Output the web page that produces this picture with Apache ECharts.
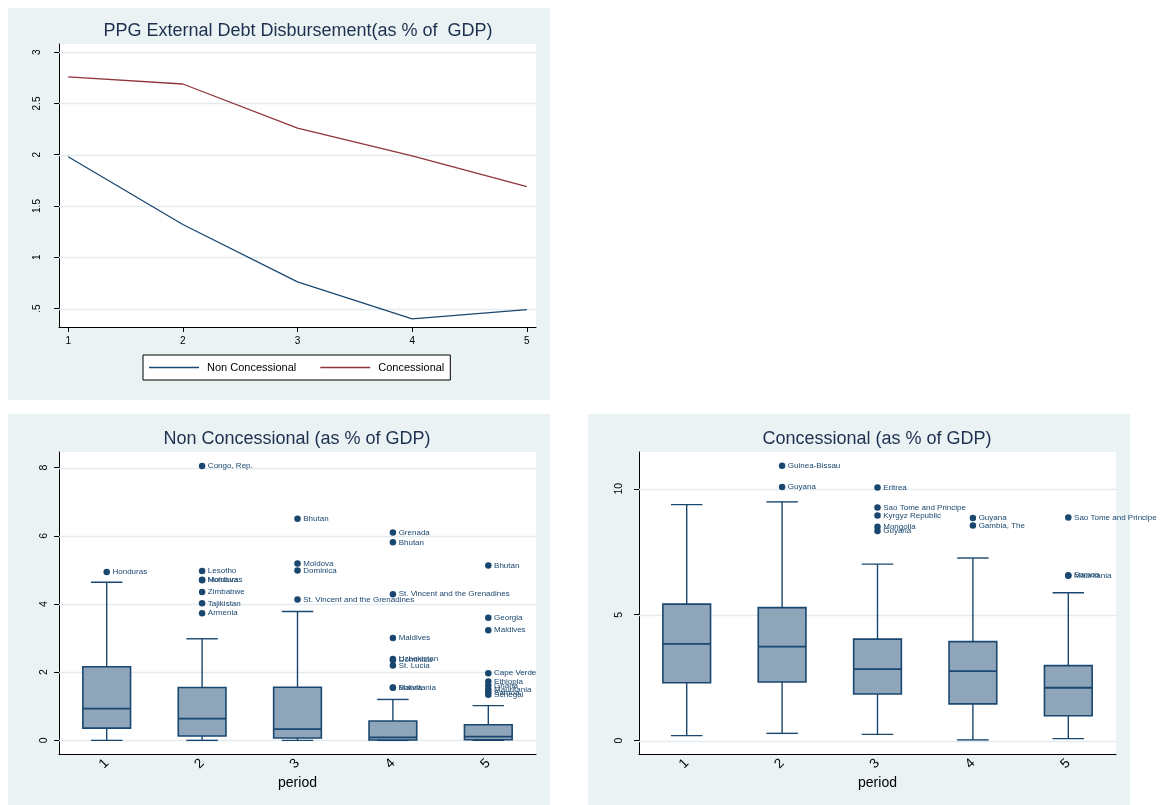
<!DOCTYPE html>
<html>
<head>
<meta charset="utf-8">
<script src="https://cdn.jsdelivr.net/npm/echarts@6/dist/echarts.min.js"></script>
<style>
  html, body { margin: 0; padding: 0; background: #ffffff; }
  #wrap { position: relative; width: 1165px; height: 805px; overflow: hidden; }
  .panel { position: absolute; background: #eaf2f3; }
  #chart { position: absolute; left: 0; top: 0; width: 1165px; height: 805px; }
</style>
</head>
<body>
<div id="wrap">
  <div class="panel" style="left:8px;top:8px;width:542px;height:392px"></div>
  <div class="panel" style="left:8px;top:414px;width:542px;height:391px"></div>
  <div class="panel" style="left:588px;top:414px;width:542px;height:391px"></div>
  <div id="chart"></div>
</div>
<script>
// ---- mean disbursement by period (% of GDP) ----
const periods = [1, 2, 3, 4, 5];
const nonConcessionalMean = [1.98, 1.32, 0.76, 0.40, 0.49];
const concessionalMean = [2.76, 2.69, 2.26, 1.99, 1.69];
const meanTicks = [0.5, 1, 1.5, 2, 2.5, 3];

// ---- box plot categories ----
const periodLabels = ['1', '2', '3', '4', '5'];

// ---- non concessional distribution by period ----
const ncLower  = [0.00, 0.00, 0.00, 0.00, 0.00];
const ncQ1     = [0.36, 0.13, 0.07, 0.01, 0.02];
const ncMedian = [0.93, 0.64, 0.33, 0.09, 0.11];
const ncQ3     = [2.16, 1.55, 1.56, 0.57, 0.46];
const ncUpper  = [4.64, 2.98, 3.78, 1.20, 1.02];
const ncTicks  = [0, 2, 4, 6, 8];
const ncOutliers = [
  ['1', 4.94, 'Honduras'],
  ['2', 8.05, 'Congo, Rep.'], ['2', 4.97, 'Lesotho'], ['2', 4.71, 'Moldova'],
  ['2', 4.70, 'Honduras'], ['2', 4.35, 'Zimbabwe'], ['2', 4.02, 'Tajikistan'],
  ['2', 3.73, 'Armenia'],
  ['3', 6.50, 'Bhutan'], ['3', 5.19, 'Moldova'], ['3', 4.98, 'Dominica'],
  ['3', 4.13, 'St. Vincent and the Grenadines'],
  ['4', 6.10, 'Grenada'], ['4', 5.81, 'Bhutan'], ['4', 4.29, 'St. Vincent and the Grenadines'],
  ['4', 3.00, 'Maldives'], ['4', 2.39, 'Uzbekistan'], ['4', 2.35, 'Dominica'],
  ['4', 2.20, 'St. Lucia'], ['4', 1.55, 'Bolivia'], ['4', 1.54, 'Mauritania'],
  ['5', 5.13, 'Bhutan'], ['5', 3.60, 'Georgia'], ['5', 3.23, 'Maldives'],
  ['5', 1.97, 'Cape Verde'], ['5', 1.73, 'Ethiopia'], ['5', 1.61, 'Ghana'],
  ['5', 1.49, 'Mauritania'], ['5', 1.41, 'Samoa'], ['5', 1.34, 'Senegal']
];

// ---- concessional distribution by period ----
const cLower  = [0.20, 0.29, 0.25, 0.03, 0.08];
const cQ1     = [2.30, 2.33, 1.85, 1.46, 0.99];
const cMedian = [3.84, 3.73, 2.84, 2.76, 2.10];
const cQ3     = [5.42, 5.28, 4.03, 3.93, 2.98];
const cUpper  = [9.37, 9.48, 7.01, 7.25, 5.87];
const cTicks  = [0, 5, 10];
const cOutliers = [
  ['2', 10.91, 'Guinea-Bissau'], ['2', 10.07, 'Guyana'],
  ['3', 10.05, 'Eritrea'], ['3', 9.26, 'Sao Tome and Principe'],
  ['3', 8.94, 'Kyrgyz Republic'], ['3', 8.49, 'Mongolia'], ['3', 8.32, 'Guyana'],
  ['4', 8.84, 'Guyana'], ['4', 8.54, 'Gambia, The'],
  ['5', 8.86, 'Sao Tome and Principe'], ['5', 6.57, 'Samoa'], ['5', 6.55, 'Mauritania']
];

// ---- styling ----
const FONT = '"Liberation Sans", Arial, Helvetica, sans-serif';
const NAVY = '#1a476f';
const MAROON = '#90353b';
const BOX_FILL = '#8ea5ba';
const GRID_LINE = '#e2ecef';
const TITLE_COLOR = '#1e3050';
const LEGEND_LINE = 'path://M0,0 L50,0 L50,1.3 L0,1.3 Z';

function boxRows(lo, q1, md, q3, hi) {
  return periodLabels.map((p, i) => [p, lo[i], q1[i], md[i], q3[i], hi[i]]);
}

function renderBox(params, api) {
  const c = api.value(0);
  const pLo = api.coord([c, api.value(1)]);
  const pQ1 = api.coord([c, api.value(2)]);
  const pMd = api.coord([c, api.value(3)]);
  const pQ3 = api.coord([c, api.value(4)]);
  const pHi = api.coord([c, api.value(5)]);
  const band = api.size([1, 0])[0];
  const hb = band * 0.25;
  const hc = band * 0.165;
  const x = pMd[0];
  const ln = { stroke: NAVY, lineWidth: 1.4 };
  return {
    type: 'group',
    children: [
      { type: 'line', shape: { x1: x, y1: pLo[1], x2: x, y2: pQ1[1] }, style: ln },
      { type: 'line', shape: { x1: x, y1: pQ3[1], x2: x, y2: pHi[1] }, style: ln },
      { type: 'line', shape: { x1: x - hc, y1: pLo[1], x2: x + hc, y2: pLo[1] }, style: ln },
      { type: 'line', shape: { x1: x - hc, y1: pHi[1], x2: x + hc, y2: pHi[1] }, style: ln },
      { type: 'rect', shape: { x: x - hb, y: pQ3[1], width: hb * 2, height: pQ1[1] - pQ3[1] },
        style: { fill: BOX_FILL, stroke: NAVY, lineWidth: 1.6 } },
      { type: 'line', shape: { x1: x - hb, y1: pMd[1], x2: x + hb, y2: pMd[1] },
        style: { stroke: NAVY, lineWidth: 1.8 } }
    ]
  };
}

// horizontal reference lines across the plot at each y tick
function gridLineSeries(axisIdx, anchorX, ticks) {
  return {
    type: 'custom', xAxisIndex: axisIdx, yAxisIndex: axisIdx, z: 1, silent: true,
    encode: { x: 0, y: 1 },
    data: ticks.map(v => [anchorX, v]),
    renderItem: function (params, api) {
      const cs = params.coordSys;
      const y = Math.round(api.coord([api.value(0), api.value(1)])[1]) + 0.5;
      return {
        type: 'line',
        shape: { x1: cs.x, y1: y, x2: cs.x + cs.width, y2: y },
        style: { stroke: GRID_LINE, lineWidth: 1.5 }
      };
    }
  };
}

function valueYAxis(gridIndex, min, max, ticks, fmt, fontSize, margin) {
  return {
    type: 'value', gridIndex, min, max,
    splitLine: { show: false },
    axisLine: { show: true, lineStyle: { color: '#000', width: 1 } },
    axisTick: { show: true, length: 5, lineStyle: { color: '#000' }, customValues: ticks },
    axisLabel: {
      show: true, rotate: 90, margin, customValues: ticks,
      formatter: fmt, color: '#000', fontFamily: FONT, fontSize
    }
  };
}

function periodXAxis(gridIndex) {
  return {
    type: 'category', gridIndex, data: periodLabels, boundaryGap: true,
    name: 'period', nameLocation: 'middle', nameGap: 22, nameMoveOverlap: false,
    nameTextStyle: { fontFamily: FONT, fontSize: 14, color: '#000' },
    axisLine: { show: true, onZero: false, lineStyle: { color: '#000', width: 1 } },
    axisTick: { show: false },
    splitLine: { show: false },
    axisLabel: { rotate: 45, margin: 7, color: '#000', fontFamily: FONT, fontSize: 13.5 }
  };
}

function outlierSeries(axisIdx, rows) {
  return {
    type: 'scatter', xAxisIndex: axisIdx, yAxisIndex: axisIdx, z: 5,
    symbol: 'circle', symbolSize: 6.5,
    itemStyle: { color: NAVY, opacity: 1 },
    data: rows.map(r => ({ value: [r[0], r[1]], name: r[2] })),
    label: {
      show: true, position: 'right', distance: 2.5,
      formatter: p => p.name,
      fontFamily: FONT, fontSize: 8, color: NAVY
    },
    labelLayout: { hideOverlap: false },
    emphasis: { disabled: true }
  };
}

const chart = echarts.init(document.getElementById('chart'), null, { renderer: 'canvas' });

const option = {
  animation: false,
  backgroundColor: 'transparent',
  textStyle: { fontFamily: FONT },
  graphic: [
    { type: 'text', x: 298, y: 31, z: 10,
      style: { text: 'PPG External Debt Disbursement(as % of  GDP)', font: '18px ' + FONT,
               fill: TITLE_COLOR, align: 'center', verticalAlign: 'middle' } },
    { type: 'text', x: 297, y: 439, z: 10,
      style: { text: 'Non Concessional (as % of GDP)', font: '18px ' + FONT,
               fill: TITLE_COLOR, align: 'center', verticalAlign: 'middle' } },
    { type: 'text', x: 877, y: 439, z: 10,
      style: { text: 'Concessional (as % of GDP)', font: '18px ' + FONT,
               fill: TITLE_COLOR, align: 'center', verticalAlign: 'middle' } }
  ],
  legend: {
    data: [
      { name: 'Non Concessional', icon: LEGEND_LINE },
      { name: 'Concessional', icon: LEGEND_LINE }
    ],
    left: 143, top: 355,
    padding: [7, 6, 7, 6],
    backgroundColor: '#ffffff', borderColor: '#000', borderWidth: 1, borderRadius: 0,
    itemWidth: 50, itemHeight: 12, itemGap: 24,
    textStyle: { fontFamily: FONT, fontSize: 11, color: '#000', padding: [0, 0, 0, 3] },
    selectedMode: false
  },
  grid: [
    { left: 59, top: 44, width: 477, height: 283, show: true, backgroundColor: '#ffffff', borderWidth: 0 },
    { left: 59, top: 452, width: 477, height: 302, show: true, backgroundColor: '#ffffff', borderWidth: 0 },
    { left: 639, top: 452, width: 477, height: 302, show: true, backgroundColor: '#ffffff', borderWidth: 0 }
  ],
  xAxis: [
    {
      type: 'value', gridIndex: 0, min: 0.92, max: 5.08,
      splitLine: { show: false },
      axisLine: { show: true, onZero: false, lineStyle: { color: '#000', width: 1 } },
      axisTick: { show: true, length: 5, lineStyle: { color: '#000' }, customValues: periods },
      axisLabel: { customValues: periods, margin: 9, color: '#000', fontFamily: FONT, fontSize: 10 }
    },
    periodXAxis(1),
    periodXAxis(2)
  ],
  yAxis: [
    valueYAxis(0, 0.32, 3.08, meanTicks, v => (v === 0.5 ? '.5' : String(v)), 10, 17),
    valueYAxis(1, -0.4, 8.46, ncTicks, v => String(v), 10.5, 9),
    valueYAxis(2, -0.53, 11.46, cTicks, v => String(v), 10.5, 14)
  ],
  series: [
    gridLineSeries(0, 1, meanTicks),
    gridLineSeries(1, '1', ncTicks),
    gridLineSeries(2, '1', cTicks),
    {
      name: 'Non Concessional', type: 'line', xAxisIndex: 0, yAxisIndex: 0, z: 3,
      symbol: 'none', lineStyle: { color: NAVY, width: 1.3 }, itemStyle: { color: NAVY },
      data: periods.map((p, i) => [p, nonConcessionalMean[i]])
    },
    {
      name: 'Concessional', type: 'line', xAxisIndex: 0, yAxisIndex: 0, z: 3,
      symbol: 'none', lineStyle: { color: MAROON, width: 1.3 }, itemStyle: { color: MAROON },
      data: periods.map((p, i) => [p, concessionalMean[i]])
    },
    {
      type: 'custom', xAxisIndex: 1, yAxisIndex: 1, z: 3,
      renderItem: renderBox, encode: { x: 0, y: [1, 2, 3, 4, 5] },
      data: boxRows(ncLower, ncQ1, ncMedian, ncQ3, ncUpper)
    },
    {
      type: 'custom', xAxisIndex: 2, yAxisIndex: 2, z: 3,
      renderItem: renderBox, encode: { x: 0, y: [1, 2, 3, 4, 5] },
      data: boxRows(cLower, cQ1, cMedian, cQ3, cUpper)
    },
    outlierSeries(1, ncOutliers),
    outlierSeries(2, cOutliers)
  ]
};

chart.setOption(option);
</script>
</body>
</html>
